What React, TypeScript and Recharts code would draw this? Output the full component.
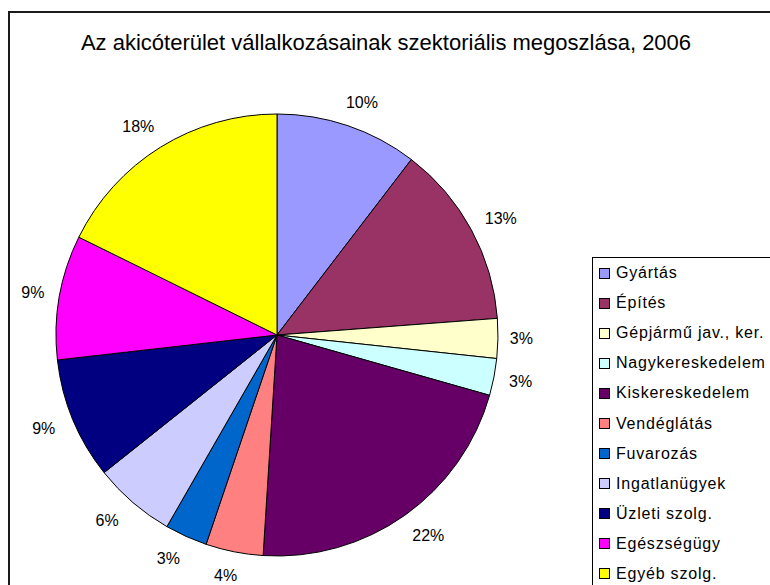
import React from "react";
import { PieChart, Pie, Cell, Legend } from "recharts";

const title = "Az akicóterület vállalkozásainak szektoriális megoszlása, 2006";

const categories = [
  "Gyártás",
  "Építés",
  "Gépjármű jav., ker.",
  "Nagykereskedelem",
  "Kiskereskedelem",
  "Vendéglátás",
  "Fuvarozás",
  "Ingatlanügyek",
  "Üzleti szolg.",
  "Egészségügy",
  "Egyéb szolg.",
];

const shares = [10.4, 13.4, 2.9, 2.7, 21.6, 4.2, 3.1, 6.0, 8.9, 9.1, 17.7];

const colors = [
  "#9999FF",
  "#993366",
  "#FFFFCC",
  "#CCFFFF",
  "#660066",
  "#FF8080",
  "#0066CC",
  "#CCCCFF",
  "#000080",
  "#FF00FF",
  "#FFFF00",
];

const data = categories.map((name, i) => ({ name, value: shares[i], color: colors[i] }));

const FONT = '"Liberation Sans", Arial, sans-serif';
const RAD = Math.PI / 180;

const renderLabel = (props: any) => {
  const { cx, cy, midAngle, outerRadius, percent } = props;
  const text = `${Math.round(percent * 100)}%`;
  const ux = Math.cos(midAngle * RAD);
  const uy = -Math.sin(midAngle * RAD);
  const x = cx + ux * (outerRadius + 23 + 22 * Math.abs(uy));
  const y = cy + uy * (outerRadius + 24);
  return (
    <text
      x={x}
      y={y}
      textAnchor="middle"
      dominantBaseline="central"
      fill="#000"
      fontSize={16}
      fontFamily={FONT}
    >
      {text}
    </text>
  );
};

const LegendContent = () => (
  <div
    style={{
      borderLeft: "1px solid #000",
      borderTop: "1px solid #000",
      background: "#fff",
      width: 200,
      height: 340,
      paddingTop: 0,
      boxSizing: "border-box",
      fontFamily: FONT,
      fontSize: 16,
      letterSpacing: 0.8,
      color: "#000",
      textAlign: "left",
    }}
  >
    {data.map((d) => (
      <div
        key={d.name}
        style={{ display: "flex", alignItems: "center", height: 30.1, whiteSpace: "nowrap" }}
      >
        <span
          style={{
            display: "inline-block",
            width: 9,
            height: 9,
            background: d.color,
            border: "1px solid #000",
            marginLeft: 6,
            marginRight: 6,
          }}
        />
        <span>{d.name}</span>
      </div>
    ))}
  </div>
);

export default function App() {
  return (
    <div
      style={{
        position: "absolute",
        left: 0,
        top: 0,
        width: 770,
        height: 585,
        overflow: "hidden",
        background: "#fff",
      }}
    >
      <div
        style={{
          position: "absolute",
          left: 8,
          top: 11,
          width: 800,
          height: 700,
          borderLeft: "2px solid #1a1a1a",
          borderTop: "2px solid #1a1a1a",
        }}
      />
      <div
        style={{
          position: "absolute",
          left: 0,
          top: 30,
          width: 772,
          textAlign: "center",
          fontFamily: FONT,
          fontSize: 22,
          color: "#000",
          whiteSpace: "nowrap",
        }}
      >
        {title}
      </div>
      <div style={{ position: "absolute", left: 0, top: 0 }}>
        <PieChart width={770} height={585} margin={{ top: 0, right: 0, bottom: 0, left: 0 }}>
          <Pie
            data={data}
            dataKey="value"
            nameKey="name"
            cx={277}
            cy={335}
            outerRadius={221}
            startAngle={90}
            endAngle={-270}
            stroke="#000"
            strokeWidth={1}
            label={renderLabel}
            labelLine={false}
            isAnimationActive={false}
          >
            {data.map((d) => (
              <Cell key={d.name} fill={d.color} />
            ))}
          </Pie>
          <Legend
            layout="vertical"
            align="right"
            verticalAlign="top"
            content={<LegendContent />}
            wrapperStyle={{ position: "absolute", left: 592, top: 257, width: 200, right: "auto" }}
          />
        </PieChart>
      </div>
    </div>
  );
}
